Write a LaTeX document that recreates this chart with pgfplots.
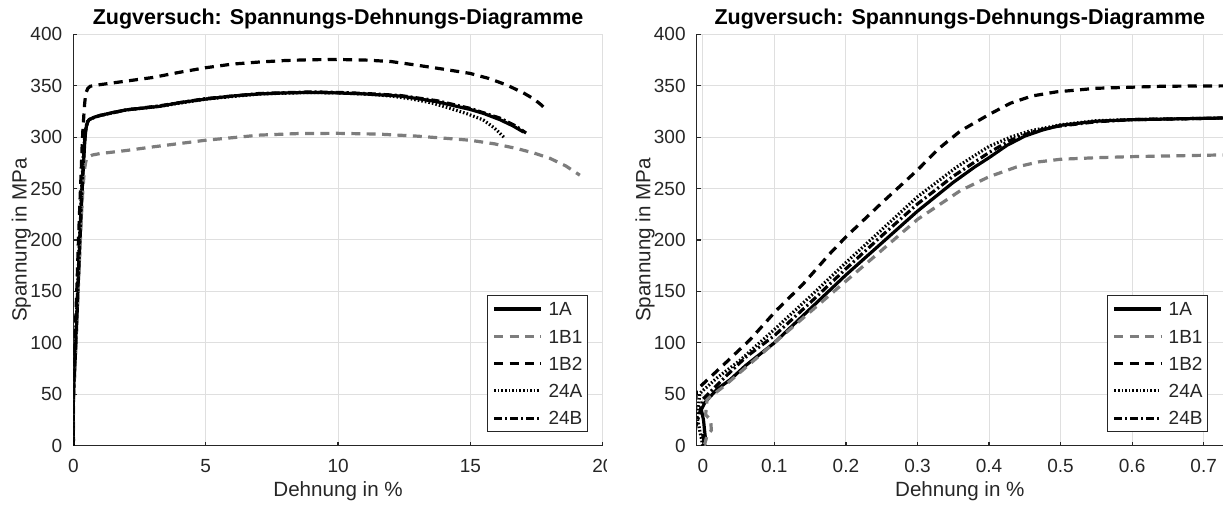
\documentclass[border=0pt]{standalone}
\usepackage{fontspec}
\setmainfont{Liberation Sans}
\usepackage{pgfplots}
\usepackage{pgfplotstable}
\pgfplotsset{compat=1.18}

\definecolor{axgray}{RGB}{38,38,38}
\definecolor{gridgray}{RGB}{223,223,223}
\definecolor{midgray}{RGB}{125,125,125}

% Dehnung in %, Spannung in MPa
\pgfplotstableread{
x y
0.003 0
0.000 10
0.004 5
0.001 25
-0.002 35
0.003 42
0.02 55
0.038 64
0.06 78
0.1 100
0.15 133
0.2 166
0.25 197
0.3 228
0.35 256
0.38 271
0.4 280
0.425 292
0.45 301
0.475 307
0.5 311.5
0.55 315.5
0.6 317
0.718 318.5
0.8 319.5
1.0 321
1.5 324
2.0 326.5
3.27 330
4.0 333.5
5.0 337
6.0 340
7.05 342
8.0 343
9.0 343.5
10.0 343
11.0 342
12.34 340
13.0 337.5
13.72 334.5
14.3 331
14.98 327
15.5 323
16.11 317
16.6 311
17.0 305
}\tabA

\pgfplotstableread{
x y
0.002 0
0.006 10
0.012 15
0.011 25
0.004 30
0.006 45
0.03 58
0.06 76
0.1 100
0.15 130
0.2 160
0.25 190
0.3 220
0.33 234
0.36 248
0.4 261.5
0.4385 271
0.47 276
0.5 278.5
0.55 280
0.597 281
0.718 282.6
1.0 284
2.0 287
3.0 290.5
5.0 297
7.05 302
8.5 303.5
10.0 303.7
11.5 303
12.97 301
14.0 299
14.98 297
15.9 293.5
16.74 289
17.4 284.5
18.0 279.4
18.6 272
19.13 263
}\tabBa

\pgfplotstableread{
x y
-0.012 0
-0.009 54
0.0288 78.5
0.066 103
0.103 131.7
0.14 157
0.178 187
0.2 203
0.25 236
0.3 268
0.33 289
0.36 306
0.4 322
0.43 333
0.46 340
0.494 344
0.55 347.5
0.643 349.5
0.718 349.8
0.8 350.3
1.0 351
2.0 354.5
3.0 358
4.0 363
5.0 367.5
6.0 371
7.0 373
8.0 374.5
9.0 375.3
10.0 375.5
11.0 375
12.0 373.5
12.97 370
14.0 366
14.98 362
15.7 357
16.37 350.7
17.0 343
17.4 337
17.69 331
17.8 328
}\tabBb

\pgfplotstableread{
x y
0.0 0
-0.008 28
-0.004 51
0.02 66
0.052 83
0.1 113
0.15 145
0.2 178
0.25 210
0.3 242
0.355 271
0.4 291
0.43 300
0.457 306
0.5 312
0.55 316
0.6 317
0.72 318.5
1.0 321
2.0 326.5
3.27 330
5.0 337
7.0 342
9.0 343.5
10.0 343
11.0 342
12.0 340
12.8 337
13.5 333.5
14.23 328
14.9 322.5
15.48 316.7
15.9 309
16.3 299
}\tabCa

\pgfplotstableread{
x y
-0.012 0
-0.010 18
-0.005 30
0.0 45
0.03 66
0.06 86
0.1 107
0.15 139
0.2 172
0.25 204
0.3 235
0.35 262
0.4 285
0.43 297
0.46 305
0.49 310
0.55 315
0.6 317
0.72 318.5
1.0 321
2.0 326.5
3.27 330.5
5.0 337.5
7.05 342.5
9.0 344
10.0 343.5
11.0 342.5
12.34 340.5
13.72 335.5
14.98 328
16.11 318.5
16.7 311
17.1 304
}\tabCb

\pgfplotsset{
  zug/.style={
    scale only axis,
    height=205.7pt,
    ymin=0, ymax=400,
    ytick={0,50,...,400},
    axis lines*=left,
    axis line style={axgray, line width=0.6pt},
    tick align=inside,
    major tick length=2pt,
    tick style={axgray, line width=0.6pt},
    grid=major,
    grid style={gridgray, line width=0.5pt},
    tick label style={font=\fontsize{9.5}{11}\selectfont, text=axgray},
    /pgf/number format/assume math mode=true,
    yticklabel style={inner xsep=0pt, xshift=-5.35pt},
    xticklabel style={inner ysep=0pt, yshift=-6.6pt},
    label style={font=\fontsize{10.3}{12}\selectfont, text=axgray},
    xlabel={Dehnung in \%},
    ylabel={Spannung in MPa},
    xlabel style={at={(axis description cs:0.5,-0.1247)}, anchor=base},
    ylabel style={at={(axis description cs:-0.088,0.5)}, anchor=base},
    title={Zugversuch: Spannungs-Dehnungs-Diagramme},
    every axis title shift=0pt,
    title style={font=\bfseries\fontsize{10.75}{12}\selectfont, text=black,
      at={(axis description cs:0.5,1.0233)}, anchor=base},
    legend cell align=left,
    legend style={at={(1,0)}, anchor=south east, xshift=-7.5pt, yshift=6.6pt,
      draw=axgray, line width=0.5pt, fill=white,
      font=\fontsize{9.5}{11}\selectfont, text=axgray,
      inner xsep=2.5pt, inner ysep=3.5pt, row sep=6.85pt, column sep=3pt,
      nodes={inner sep=0pt, text height=6.8pt, text depth=0pt}},
    legend image code/.code={\draw[#1] (0pt,0pt) -- (23.35pt,0pt);},
  },
  s1A/.style={black, line width=1.6pt, line join=round},
  s1B1/.style={midgray, line width=1.6pt, dash pattern=on 4.5pt off 3.2pt},
  s1B2/.style={black, line width=1.6pt, dash pattern=on 4.5pt off 3.2pt},
  s24A/.style={black, line width=1.6pt, dash pattern=on 0.8pt off 1pt},
  s24B/.style={black, line width=1.6pt, dash pattern=on 4pt off 1.5pt on 1pt off 1.5pt},
}

\begin{document}
\begin{tikzpicture}
\path[use as bounding box] (0,0) rectangle (611.5pt,253pt);
\begin{scope}
\clip (0,0) rectangle (303pt,253pt);
\begin{axis}[zug, at={(36.65pt,30.15pt)}, anchor=south west, width=264.8pt,
    xmin=0, xmax=20, xtick={0,5,10,15,20}]
\addplot[s1A] table {\tabA}; \addlegendentry{1A}
\addplot[s1B1] table {\tabBa}; \addlegendentry{1B1}
\addplot[s1B2] table {\tabBb}; \addlegendentry{1B2}
\addplot[s24A] table {\tabCa}; \addlegendentry{24A}
\addplot[s24B] table {\tabCb}; \addlegendentry{24B}
\end{axis}
\end{scope}
\begin{axis}[zug, at={(348.35pt,30.15pt)}, anchor=south west, width=263.15pt,
    xmin=-0.0085, xmax=0.727, xtick={0,0.1,0.2,0.3,0.4,0.5,0.6,0.7}]
\addplot[s1A] table {\tabA}; \addlegendentry{1A}
\addplot[s1B1] table {\tabBa}; \addlegendentry{1B1}
\addplot[s1B2] table {\tabBb}; \addlegendentry{1B2}
\addplot[s24A] table {\tabCa}; \addlegendentry{24A}
\addplot[s24B] table {\tabCb}; \addlegendentry{24B}
\end{axis}
\end{tikzpicture}
\end{document}
